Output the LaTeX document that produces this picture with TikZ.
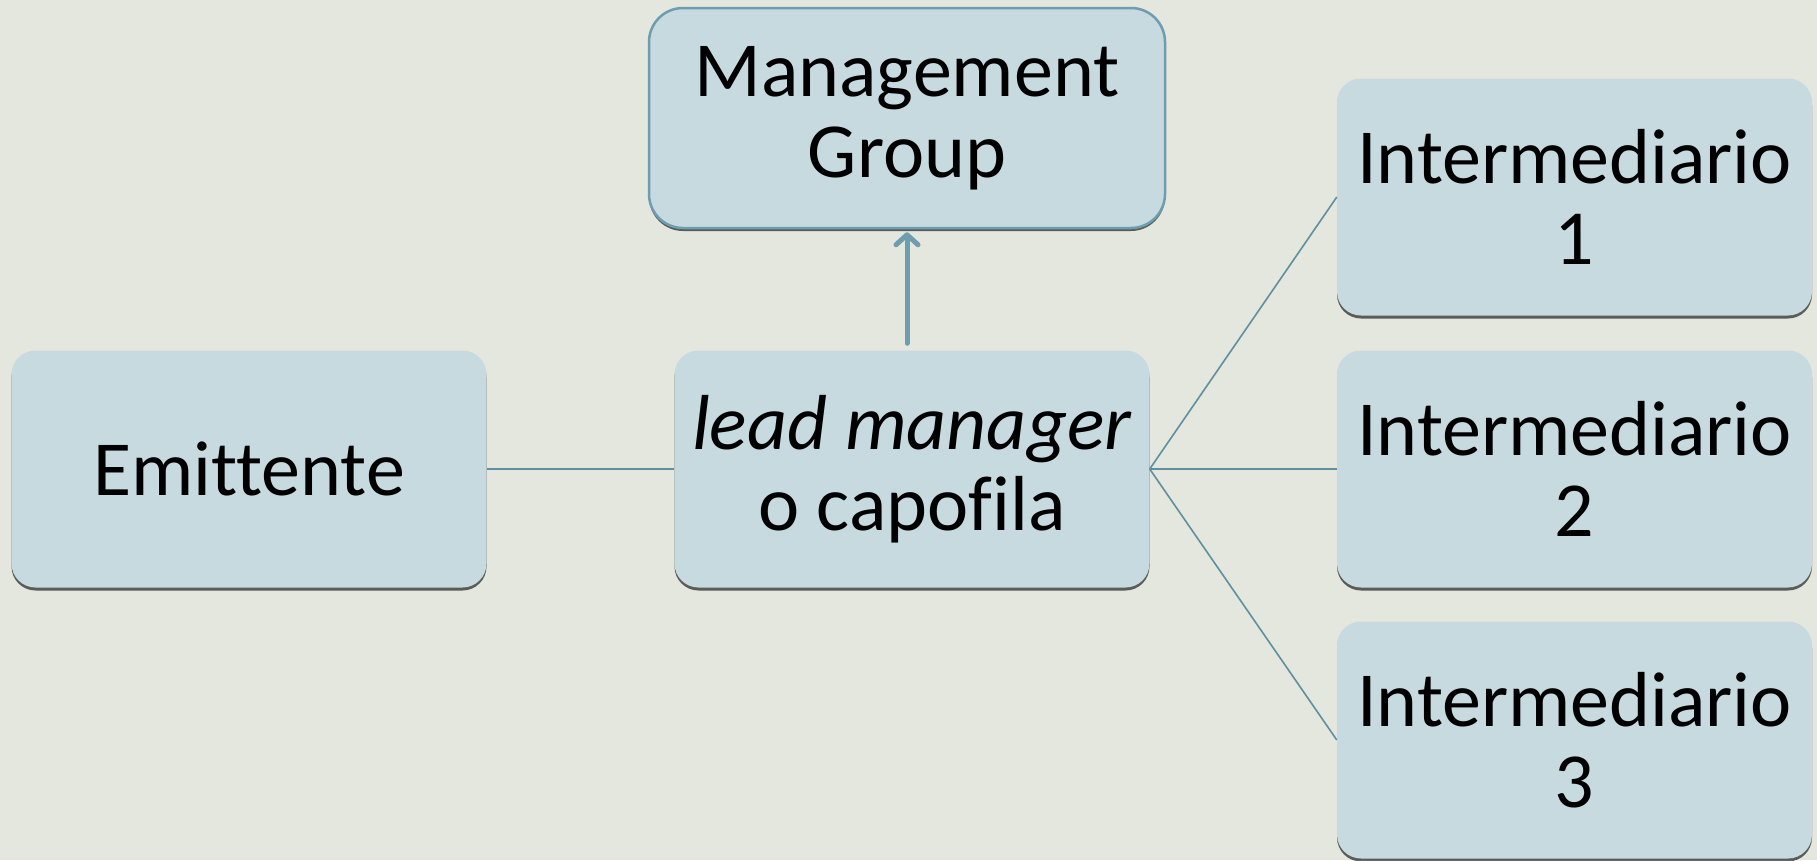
\documentclass[tikz,border=0pt]{standalone}
\usepackage{fontspec}
\setmainfont[Ligatures=NoCommon]{Carlito}
\usetikzlibrary{shadows,arrows.meta}
\definecolor{bg}{RGB}{227,231,222}
\definecolor{boxfill}{RGB}{198,218,224}
\definecolor{linec}{RGB}{96,143,158}
\definecolor{mgborder}{RGB}{110,157,176}
\tikzset{
  box/.style={rectangle, rounded corners=24pt, fill=boxfill, inner sep=0pt,
    minimum width=475pt, minimum height=237pt, align=center,
    font=\fontsize{78}{81}\selectfont,
    drop shadow={shadow xshift=0pt, shadow yshift=-3pt, opacity=0.6, fill=black}},
  mgbox/.style={box, draw=mgborder, line width=2.5pt, rounded corners=34pt,
    minimum width=516pt, minimum height=220pt},
  conn/.style={draw=linec, line width=1.6pt},
  upar/.style={draw=mgborder, line width=5pt, line cap=round,
    -{Straight Barb[length=10pt,width=22pt,round]}}
}
\begin{document}
\begin{tikzpicture}[x=1pt,y=-1pt]
\useasboundingbox[fill=bg] (0,0) rectangle (1817,860);
\node[box] (em) at (249,469) {Emittente};
\node[box] (lm) at (912,469) {\textit{lead manager}\\o capofila};
\node[mgbox] (mg) at (907,118) {Management\\Group};
\node[box] (i1) at (1574.5,197) {Intermediario\\1};
\node[box] (i2) at (1574.5,469) {Intermediario\\2};
\node[box] (i3) at (1574.5,740) {Intermediario\\3};
\draw[conn] (em.east) -- (lm.west);
\draw[conn] (lm.east) -- (i1.west);
\draw[conn] (lm.east) -- (i2.west);
\draw[conn] (lm.east) -- (i3.west);
\draw[upar, shorten <=7pt, shorten >=3pt] (lm.north -| mg.south) -- (mg.south);
\end{tikzpicture}
\end{document}
